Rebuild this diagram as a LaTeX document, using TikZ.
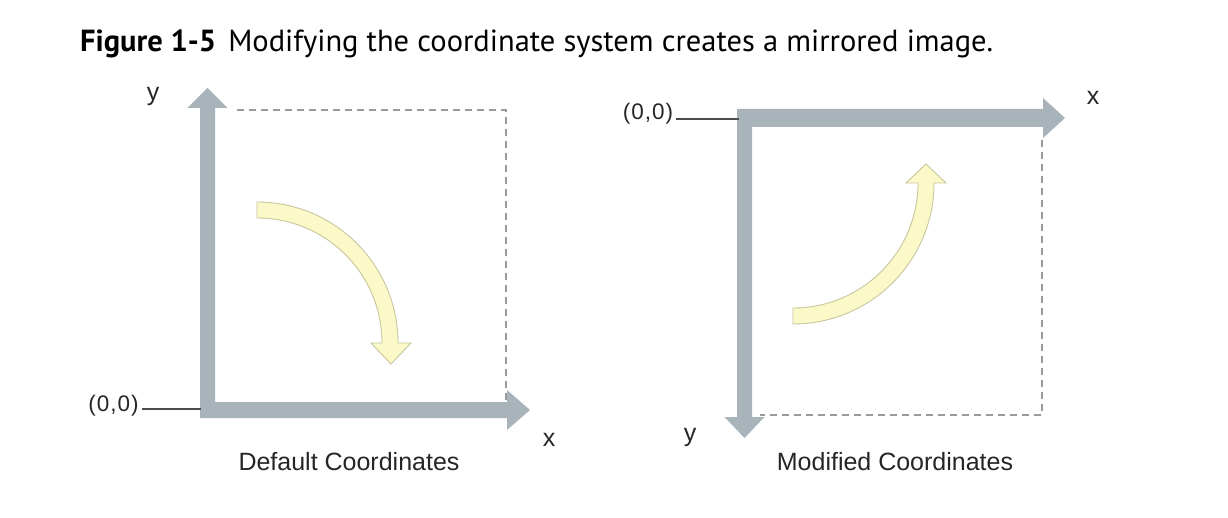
\documentclass[tikz,border=0pt]{standalone}
\usepackage{fontspec}
\setmainfont{Liberation Sans}
\newfontfamily\titlefont{PT Sans}
\definecolor{axisgray}{HTML}{A8B4B9}
\definecolor{arrowfill}{HTML}{FCF9C9}
\definecolor{arrowline}{HTML}{C8C69E}
\definecolor{dashgray}{HTML}{9A9A9A}
\definecolor{labelgray}{HTML}{262626}
\begin{document}
\begin{tikzpicture}[x=1pt,y=1pt,yscale=-1,
  axisshape/.style={fill=axisgray,draw=none},
  curvearrow/.style={fill=arrowfill,draw=arrowline,line width=0.9pt,line join=miter},
  framedash/.style={draw=dashgray,line width=1.4pt,dash pattern=on 7pt off 5pt},
  leader/.style={draw=black!70,line width=1.3pt},
  lbl/.style={text=labelgray,font=\fontsize{25}{28}\selectfont,inner sep=0pt,anchor=base},
  zerolbl/.style={text=labelgray,font=\fontsize{22.5}{25}\selectfont,inner sep=0pt,anchor=base}]
\useasboundingbox (0,0) rectangle (1228,518);
\fill[white] (0,0) rectangle (1228,518);

% title
\node[anchor=base west,inner sep=0pt,font=\titlefont\fontsize{30.5}{36}\selectfont] (title) at (80,52)
  {\textbf{Figure 1-5}\hspace{0.4em}Modifying the coordinate system creates a mirrored image.};

% ---------- left: default coordinates ----------
\draw[framedash] (237,110) -- (506,110) -- (506,400);
\path[axisshape] (200,418) -- (200,108) -- (187.5,108) -- (207.5,88) -- (227.5,108) -- (215,108)
  -- (215,402) -- (507,402) -- (507,390) -- (530,410) -- (507,430) -- (507,418) -- cycle;
\coordinate (originL) at (201,409);
\path[curvearrow] (257,202) arc[start angle=270,end angle=360,radius=141]
  -- (411,343) -- (391,364) -- (371,343) -- (382,343)
  arc[start angle=360,end angle=270,radius=125] -- cycle;
\node[zerolbl] (zeroL) at (113.5,411) {(\kern1pt0\kern1pt,\kern1pt0\kern1pt)};
\draw[leader] (zeroL.base east) ++(3,-2) coordinate (zeroLend) -- (originL);
\node[lbl] (yL) at (153,101) {y};
\node[lbl] (xL) at (549,446) {x};
\node[lbl] (capL) at (349,470) {Default Coordinates};

% ---------- right: modified coordinates ----------
\draw[framedash] (1042,140) -- (1042,415) -- (760,415);
\path[axisshape] (737,109) -- (1043,109) -- (1043,98) -- (1065,118) -- (1043,138) -- (1043,127)
  -- (752,127) -- (752,417) -- (764.5,417) -- (744.5,438) -- (724.5,417) -- (737,417) -- cycle;
\coordinate (originR) at (739,119);
\path[curvearrow] (793,324) arc[start angle=90,end angle=0,radius=141]
  -- (946,183) -- (926,164) -- (906,183) -- (918,183)
  arc[start angle=0,end angle=90,radius=125] -- cycle;
\node[zerolbl] (zeroR) at (648,120) {(\kern1pt0\kern1pt,\kern1pt0\kern1pt)};
\draw[leader] (zeroR.base east) ++(3,-1) coordinate (zeroRend) -- (originR);
\node[lbl] (xR) at (1093,105) {x};
\node[lbl] (yR) at (690,441) {y};
\node[lbl] (capR) at (895,470) {Modified Coordinates};
\end{tikzpicture}
\end{document}
